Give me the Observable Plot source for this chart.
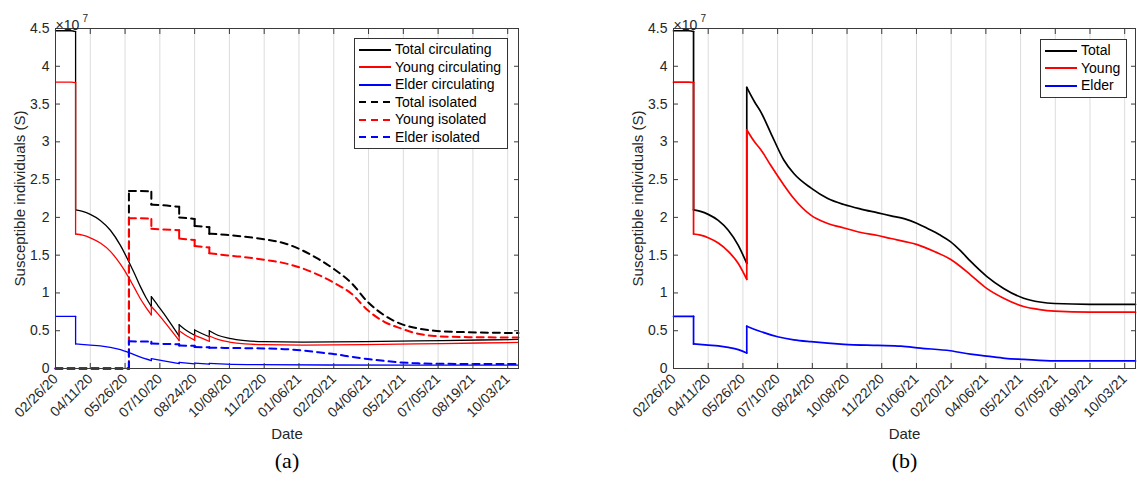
<!DOCTYPE html>
<html>
<head>
<meta charset="utf-8">
<script src="https://cdn.jsdelivr.net/npm/d3@7"></script>
<script src="https://cdn.jsdelivr.net/npm/@observablehq/plot@0.6"></script>
<style>
  body { margin: 0; background: #fff; }
  #wrap { position: relative; width: 1137px; height: 481px; overflow: hidden;
          font-family: "Liberation Sans", Arial, Helvetica, sans-serif; }
  .panel { position: absolute; top: 0; }
  .legend { position: absolute; box-sizing: border-box; border: 1px solid #333; background: #fff;
            font-size: 14px; line-height: 17.5px; color: #000; padding: 2px 6px 2px 4px; }
  .legend .row { display: flex; align-items: center; white-space: nowrap; }
  .legend svg { flex: none; margin-right: 4px; }
</style>
</head>
<body>
<div id="wrap"></div>
<script>
// Simulation start and x-axis ticks (every 45 days)
const startDate = "2020-02-26";
const endDay = 599;
const xTickLabels = ["02/26/20", "04/11/20", "05/26/20", "07/10/20", "08/24/20", "10/08/20", "11/22/20",
                     "01/06/21", "02/20/21", "04/06/21", "05/21/21", "07/05/21", "08/19/21", "10/03/21"];
const yTicks = [0, 0.5, 1, 1.5, 2, 2.5, 3, 3.5, 4, 4.5];

// Susceptible individuals (×10^7); each series is a list of continuous pieces of [day, value]
// Panel (a): circulating vs. isolated
const totalCirculating = [
  [[0, 4.47], [20, 4.47], [26, 4.46]],
  [[26, 2.10], [35, 2.08], [45, 2.04], [58, 1.96], [71, 1.83], [84, 1.63], [95, 1.41], [102, 1.26], [110, 1.08], [117, 0.94], [124, 0.82]],
  [[124, 0.95], [132, 0.84], [140, 0.73], [150, 0.58], [160, 0.43]],
  [[160, 0.58], [170, 0.50], [180, 0.44]],
  [[180, 0.51], [190, 0.46], [199, 0.42]],
  [[199, 0.50], [210, 0.44], [225, 0.40], [245, 0.37], [270, 0.355], [320, 0.35], [400, 0.355], [500, 0.37], [599, 0.385]]
];
const youngCirculating = [
  [[0, 3.79], [20, 3.79], [26, 3.785]],
  [[26, 1.78], [35, 1.765], [45, 1.73], [58, 1.66], [71, 1.55], [84, 1.38], [95, 1.20], [102, 1.07], [110, 0.92], [117, 0.81], [124, 0.71]],
  [[124, 0.82], [132, 0.73], [140, 0.63], [150, 0.50], [160, 0.37]],
  [[160, 0.50], [170, 0.43], [180, 0.375]],
  [[180, 0.44], [190, 0.40], [199, 0.36]],
  [[199, 0.43], [210, 0.385], [225, 0.35], [245, 0.325], [270, 0.315], [320, 0.31], [400, 0.315], [500, 0.33], [599, 0.345]]
];
const elderCirculating = [
  [[0, 0.69], [26, 0.69]],
  [[26, 0.325], [45, 0.31], [58, 0.30], [71, 0.28], [84, 0.25], [95, 0.21], [110, 0.15], [124, 0.105]],
  [[124, 0.13], [140, 0.10], [160, 0.065]],
  [[160, 0.08], [180, 0.06]],
  [[180, 0.07], [199, 0.058]],
  [[199, 0.068], [220, 0.058], [260, 0.05], [350, 0.046], [599, 0.045]]
];
const totalIsolated = [
  [[0, 0], [95, 0]],
  [[95, 2.35], [110, 2.35], [124, 2.34]],
  [[124, 2.17], [140, 2.16], [160, 2.14]],
  [[160, 2.00], [170, 1.99], [180, 1.98]],
  [[180, 1.885], [190, 1.88], [199, 1.87]],
  [[199, 1.785], [220, 1.77], [240, 1.75], [270, 1.71], [300, 1.645], [318, 1.57], [340, 1.45], [361, 1.31], [383, 1.13], [404, 0.88], [426, 0.70], [447, 0.59], [469, 0.53], [490, 0.50], [534, 0.48], [599, 0.47]]
];
const youngIsolated = [
  [[0, 0], [95, 0]],
  [[95, 1.99], [110, 1.99], [124, 1.98]],
  [[124, 1.85], [140, 1.84], [160, 1.83]],
  [[160, 1.72], [170, 1.71], [180, 1.70]],
  [[180, 1.62], [190, 1.61], [199, 1.60]],
  [[199, 1.525], [220, 1.50], [240, 1.48], [270, 1.44], [300, 1.385], [318, 1.33], [340, 1.24], [361, 1.13], [383, 0.99], [404, 0.77], [426, 0.615], [447, 0.53], [469, 0.46], [490, 0.43], [534, 0.415], [599, 0.41]]
];
const elderIsolated = [
  [[0, 0], [95, 0]],
  [[95, 0.36], [124, 0.355]],
  [[124, 0.33], [160, 0.32]],
  [[160, 0.305], [180, 0.30]],
  [[180, 0.285], [199, 0.28]],
  [[199, 0.275], [240, 0.27], [270, 0.265], [300, 0.255], [318, 0.24], [340, 0.215], [361, 0.19], [383, 0.155], [404, 0.125], [426, 0.10], [447, 0.08], [469, 0.068], [490, 0.062], [599, 0.06]]
];

// Panel (b): totals (circulating + isolated)
const totalAll = [
  [[0, 4.47], [20, 4.47], [26, 4.46]],
  [[26, 2.10], [35, 2.08], [45, 2.04], [58, 1.96], [71, 1.83], [84, 1.63], [95, 1.39]],
  [[95, 3.72], [105, 3.53], [113, 3.40], [126, 3.12], [143, 2.76], [156, 2.58], [178, 2.39], [200, 2.25], [221, 2.17], [243, 2.11], [265, 2.06], [282, 2.02], [300, 1.98], [316, 1.92], [330, 1.85], [345, 1.77], [359, 1.68], [372, 1.56], [385, 1.42], [406, 1.22], [428, 1.06], [454, 0.93], [475, 0.88], [494, 0.86], [540, 0.85], [599, 0.85]]
];
const youngAll = [
  [[0, 3.79], [20, 3.79], [26, 3.785]],
  [[26, 1.78], [35, 1.765], [45, 1.73], [58, 1.66], [71, 1.55], [84, 1.39], [95, 1.18]],
  [[95, 3.16], [105, 3.00], [113, 2.90], [126, 2.69], [143, 2.43], [156, 2.25], [178, 2.03], [200, 1.92], [221, 1.86], [243, 1.80], [265, 1.76], [282, 1.72], [300, 1.68], [316, 1.64], [340, 1.54], [359, 1.445], [372, 1.35], [385, 1.24], [406, 1.06], [428, 0.93], [454, 0.82], [475, 0.78], [494, 0.76], [540, 0.745], [599, 0.745]]
];
const elderAll = [
  [[0, 0.69], [26, 0.69]],
  [[26, 0.325], [45, 0.31], [58, 0.30], [71, 0.28], [84, 0.25], [95, 0.205]],
  [[95, 0.56], [110, 0.50], [135, 0.42], [156, 0.38], [178, 0.355], [221, 0.32], [265, 0.305], [295, 0.295], [320, 0.27], [359, 0.235], [385, 0.19], [406, 0.165], [430, 0.135], [454, 0.12], [494, 0.10], [599, 0.10]]
];

// ---- helpers ----
const start = new Date(startDate + "T00:00:00Z");
const dayToDate = (d) => new Date(+start + d * 864e5);
const parseTick = (s) => { const [m, d, y] = s.split("/").map(Number); return new Date(Date.UTC(2000 + y, m - 1, d)); };
const xTicks = xTickLabels.map(parseTick);
const fmtTick = d3.utcFormat("%m/%d/%y");
const fmtY = d3.format("~g");

// Continuous pieces as rows, plus the vertical jumps that join consecutive pieces
function pieces(segs) {
  const rows = [];
  segs.forEach((seg, k) => seg.forEach(([d, v]) => rows.push({seg: k, date: dayToDate(d), value: v})));
  return rows;
}
function jumps(segs) {
  const rows = [];
  for (let k = 1; k < segs.length; ++k) {
    const [d0, v0] = segs[k - 1][segs[k - 1].length - 1];
    const [d1, v1] = segs[k][0];
    rows.push({seg: k, date: dayToDate(d0), value: v0}, {seg: k, date: dayToDate(d1), value: v1});
  }
  return rows;
}

const font = "'Liberation Sans', Arial, Helvetica, sans-serif";
const ink = "#262626";

function panel({series, marginLeft, marginRight, caption}) {
  const lineMarks = series.flatMap((s) => {
    const opts = {x: "date", y: "value", z: "seg", stroke: s.color, strokeWidth: s.width,
                  strokeDasharray: s.dash, strokeLinejoin: "round"};
    return [
      Plot.line(pieces(s.segs), {...opts, curve: "monotone-x"}),
      Plot.line(jumps(s.segs), {...opts, curve: "linear"})
    ];
  });
  return Plot.plot({
    width: 568,
    height: 481,
    marginTop: 28,
    marginBottom: 113,
    marginLeft,
    marginRight,
    style: {fontFamily: font, fontSize: "14px", color: ink, background: "transparent", overflow: "visible"},
    x: {type: "utc", domain: [start, dayToDate(endDay)]},
    y: {domain: [0, 4.5]},
    marks: [
      Plot.gridX(xTicks, {stroke: "#dcdcdc", strokeOpacity: 1}),
      ...lineMarks,
      Plot.frame({stroke: "#3a3a3a"}),
      Plot.axisX(xTicks, {anchor: "bottom", tickSize: 0, tickPadding: 8, tickRotate: -45, tickFormat: fmtTick, label: null, fontSize: 14}),
      Plot.axisX(xTicks, {anchor: "bottom", tickSize: -5, tickFormat: () => "", label: null, stroke: "#3a3a3a"}),
      Plot.axisX(xTicks, {anchor: "top", tickSize: -5, tickFormat: () => "", label: null, stroke: "#3a3a3a"}),
      Plot.axisY(yTicks, {anchor: "left", tickSize: 0, tickPadding: 6, tickFormat: fmtY, label: null, fontSize: 14}),
      Plot.axisY(yTicks, {anchor: "left", tickSize: -5, tickFormat: () => "", label: null, stroke: "#3a3a3a"}),
      Plot.axisY(yTicks, {anchor: "right", tickSize: -5, tickFormat: () => "", label: null, stroke: "#3a3a3a"}),
      Plot.text(["×10"], {frameAnchor: "top-left", textAnchor: "start", dx: 0, dy: -8, fontSize: 14, fill: ink}),
      Plot.text(["7"], {frameAnchor: "top-left", textAnchor: "start", dx: 27, dy: -14, fontSize: 10, fill: ink}),
      Plot.text(["Susceptible individuals (S)"], {frameAnchor: "left", textAnchor: "middle", rotate: -90, dx: -35, fontSize: 15, fill: ink}),
      Plot.text(["Date"], {frameAnchor: "bottom", dy: 70, fontSize: 15, fill: ink}),
      Plot.text([caption], {frameAnchor: "bottom", dy: 99, fontSize: 22, fill: "#000",
                            fontFamily: "'Liberation Serif', 'Times New Roman', serif"})
    ]
  });
}

function legend(items, left, top) {
  const box = document.createElement("div");
  box.className = "legend";
  box.style.left = left + "px";
  box.style.top = top + "px";
  for (const it of items) {
    const row = document.createElement("div");
    row.className = "row";
    const svg = d3.create("svg").attr("width", 32).attr("height", 10);
    svg.append("line").attr("x1", 0).attr("x2", 32).attr("y1", 5).attr("y2", 5)
      .attr("stroke", it.color).attr("stroke-width", it.legendWidth ?? 2)
      .attr("stroke-dasharray", it.dash ?? null);
    row.append(svg.node());
    const span = document.createElement("span");
    span.textContent = it.label;
    row.append(span);
    box.append(row);
  }
  return box;
}

const dash = "7,5";
const seriesA = [
  {label: "Total circulating", color: "#000000", width: 1.3, segs: totalCirculating},
  {label: "Young circulating", color: "#ff0000", width: 1.3, segs: youngCirculating},
  {label: "Elder circulating", color: "#0000ff", width: 1.3, segs: elderCirculating},
  {label: "Total isolated", color: "#000000", width: 2, dash, segs: totalIsolated},
  {label: "Young isolated", color: "#ff0000", width: 2, dash, segs: youngIsolated},
  {label: "Elder isolated", color: "#0000ff", width: 2, dash, segs: elderIsolated}
];
const seriesB = [
  {label: "Total", color: "#000000", width: 1.7, segs: totalAll},
  {label: "Young", color: "#ff0000", width: 1.7, segs: youngAll},
  {label: "Elder", color: "#0000ff", width: 1.7, segs: elderAll}
];

const wrap = document.getElementById("wrap");

const a = panel({series: seriesA, marginLeft: 55, marginRight: 50, caption: "(a)"});
a.classList.add("panel");
a.style.left = "0px";
wrap.append(a);

const b = panel({series: seriesB, marginLeft: 104, marginRight: 2, caption: "(b)"});
b.classList.add("panel");
b.style.left = "569px";
wrap.append(b);

wrap.append(legend(seriesA, 354, 38));
wrap.append(legend(seriesB, 1040, 39));
</script>
</body>
</html>
